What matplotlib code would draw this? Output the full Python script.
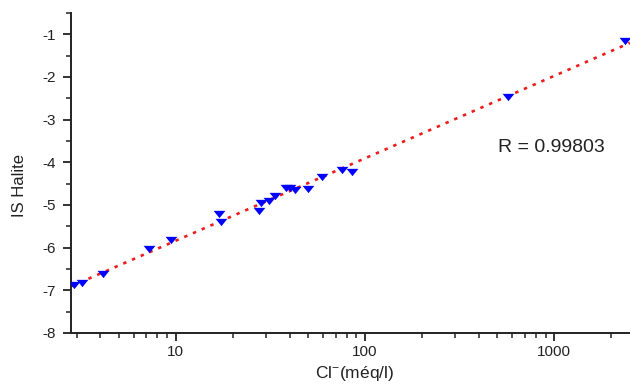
import numpy as np
import matplotlib
matplotlib.use("Agg")
import matplotlib.pyplot as plt
from matplotlib.ticker import LogLocator, FixedLocator, MultipleLocator, NullFormatter

plt.rcParams['font.family'] = ['Liberation Sans', 'DejaVu Sans']
plt.rcParams['mathtext.fontset'] = 'custom'
plt.rcParams['mathtext.rm'] = 'Liberation Sans'
plt.rcParams['mathtext.it'] = 'Liberation Sans:italic'
plt.rcParams['axes.unicode_minus'] = False

# Data: chloride (meq/l) vs saturation index of halite
cl = [2.89, 3.19, 4.13, 7.26, 9.45, 17.0, 17.3, 27.7, 28.2, 31.2, 33.5,
      38.3, 40.2, 42.7, 49.8, 59.0, 75.3, 85.1, 569, 2378]
is_halite = [-6.87, -6.83, -6.62, -6.04, -5.81, -5.20, -5.41, -5.13, -4.96, -4.90, -4.79,
             -4.61, -4.61, -4.64, -4.62, -4.35, -4.17, -4.23, -2.46, -1.15]
r_text = "R = 0.99803"
x_ticks = [10, 100, 1000]
x_ticklabels = ["10", "100", "1000"]
y_ticks = [-1, -2, -3, -4, -5, -6, -7, -8]

fig = plt.figure(figsize=(6.3, 3.85), dpi=100)
ax = fig.add_axes([71/630, 1-333/385, 1-71/630, (333-13)/385])

xlim = (2.80, 2512)
ax.set_xscale('log')
ax.set_xlim(*xlim)
ax.set_ylim(-8, -0.5)

# linear fit of IS vs log10(Cl)
lx = np.log10(cl)
coef = np.polyfit(lx, is_halite, 1)
xf = np.logspace(np.log10(xlim[0]), np.log10(xlim[1]), 200)
ax.plot(xf, np.polyval(coef, np.log10(xf)), color='#ee1c1c', lw=1.9,
        linestyle=(0, (1.3, 2.3)), zorder=2)

tri = [(-1, 0.62), (1, 0.62), (0, -0.62), (-1, 0.62)]
ax.plot(cl, is_halite, linestyle='none', marker=tri, markersize=8.5,
        color='#0000ff', markeredgewidth=0, zorder=3)

for s in ['top', 'right']:
    ax.spines[s].set_visible(False)
for s in ['left', 'bottom']:
    ax.spines[s].set_linewidth(1.4)
    ax.spines[s].set_color('#222222')

ax.xaxis.set_major_locator(FixedLocator(x_ticks))
ax.set_xticklabels(x_ticklabels)
ax.xaxis.set_minor_locator(LogLocator(base=10, subs=np.arange(2, 10)))
ax.xaxis.set_minor_formatter(NullFormatter())
ax.yaxis.set_major_locator(FixedLocator(y_ticks))
ax.yaxis.set_minor_locator(MultipleLocator(0.5))

ax.tick_params(axis='both', which='major', direction='out', length=6, width=1.3,
               labelsize=11, colors='#222222')
ax.tick_params(axis='both', which='minor', direction='out', length=3.5, width=1.1,
               colors='#222222')
ax.tick_params(axis='y', which='major', pad=5)
ax.tick_params(axis='x', which='major', pad=3)

fig.text(20/630, 1-185/385, "IS Halite", rotation=90, ha='center', va='center',
         fontsize=12, color='#222222')
fig.text(355/630, 1-383/385, "Cl$^{-}$(méq/l)", ha='center', va='bottom',
         fontsize=12.5, color='#222222')
ax.text(0.764, 0.581, r_text, transform=ax.transAxes, ha='left', va='center',
        fontsize=14, color='#222222')

fig.savefig("out.png", dpi=100)
